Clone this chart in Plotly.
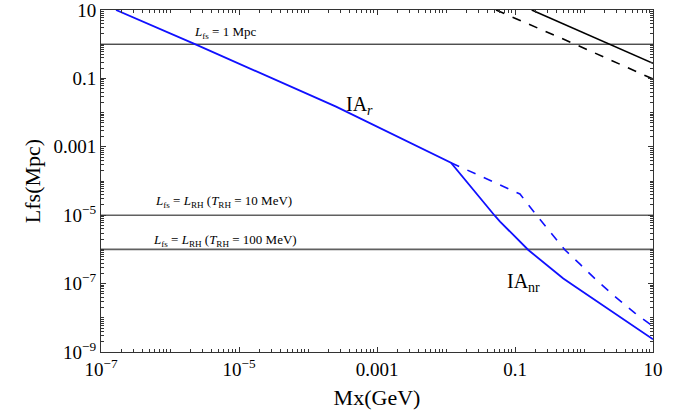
import plotly.graph_objects as go

# ---- data ----
x_blue_solid = [1.65e-7, 2.30e-6, 2.55e-4, 0.0118, 0.0513, 0.0607, 0.156, 0.272, 0.501, 0.741, 2.81, 10]
y_blue_solid = [10, 1.0, 0.0149, 3.43e-4, 9.5e-6, 6.5e-6, 9.6e-7, 3.9e-7, 1.41e-7, 8.2e-8, 1.35e-8, 2.34e-9]

x_blue_dash = [0.0118, 0.118, 0.206, 0.531, 0.875, 1.54, 2.81, 5.48, 10]
y_blue_dash = [3.43e-4, 4.17e-5, 9.8e-6, 9.6e-7, 3.7e-7, 1.23e-7, 4.2e-8, 1.38e-8, 5.6e-9]

x_black_solid = [0.1746, 2.38, 10]
y_black_solid = [10, 1.0, 0.277]

x_black_dash = [0.0531, 0.741, 10]
y_black_dash = [10, 1.0, 0.096]

h_lines_y = [1.0, 1e-5, 1e-6]
x_range_vals = [1e-7, 10]

x_tick_vals = [1e-7, 1e-5, 1e-3, 1e-1, 10]
x_tick_text = ["10<sup>\u22127</sup>", "10<sup>\u22125</sup>", "0.001", "0.1", "10"]
y_tick_vals = [1e-9, 1e-7, 1e-5, 1e-3, 1e-1, 10]
y_tick_text = ["10<sup>\u22129</sup>", "10<sup>\u22127</sup>", "10<sup>\u22125</sup>", "0.001", "0.1", "10"]

FONT = "Liberation Serif, Times New Roman, serif"
BLUE = "#1010ff"

fig = go.Figure()

# horizontal reference lines
fig.add_trace(go.Scatter(x=x_range_vals, y=[h_lines_y[0]] * 2, mode="lines",
                         line=dict(color="black", width=1), showlegend=False))
for hy in h_lines_y[1:]:
    fig.add_trace(go.Scatter(x=x_range_vals, y=[hy] * 2, mode="lines",
                             line=dict(color="#606060", width=1.6), showlegend=False))

fig.add_trace(go.Scatter(x=x_black_solid, y=y_black_solid, mode="lines",
                         line=dict(color="black", width=1.6), showlegend=False))
fig.add_trace(go.Scatter(x=x_black_dash, y=y_black_dash, mode="lines",
                         line=dict(color="black", width=1.6, dash="dash"), showlegend=False))
fig.add_trace(go.Scatter(x=x_blue_dash, y=y_blue_dash, mode="lines",
                         line=dict(color=BLUE, width=1.6, dash="dash"),
                         showlegend=False))
fig.add_trace(go.Scatter(x=x_blue_solid, y=y_blue_solid, mode="lines",
                         line=dict(color=BLUE, width=1.8),
                         showlegend=False))

def minor_vals(lo, hi, skip):
    out = []
    for e in range(lo, hi + 1):
        for m in range(1, 10):
            v = m * 10 ** e
            if m == 1 and any(abs(v - s) / s < 1e-9 for s in skip):
                continue
            out.append(v)
    return out

axis_common = dict(
    type="log", showgrid=False, zeroline=False, showline=True, linecolor="#333333",
    linewidth=1, mirror="allticks", ticks="inside", ticklen=5, tickcolor="#333333",
    tickfont=dict(family=FONT, size=19, color="black"), automargin=False,
    ticklabeloverflow="allow", tickmode="array",
)

fig.update_xaxes(**axis_common, range=[-7, 1],
                 tickvals=x_tick_vals, ticktext=x_tick_text,
                 minor=dict(ticks="inside", ticklen=3, tickcolor="#333333", tickmode="array",
                            tickvals=minor_vals(-7, 0, x_tick_vals)),
                 title=dict(text="Mx(GeV)", font=dict(family=FONT, size=22, color="black"), standoff=10))
fig.update_yaxes(**axis_common, range=[-9, 1],
                 tickvals=y_tick_vals, ticktext=y_tick_text,
                 minor=dict(ticks="inside", ticklen=3, tickcolor="#333333", tickmode="array",
                            tickvals=minor_vals(-9, 0, y_tick_vals)),
                 title=dict(text="Lfs(Mpc)", font=dict(family=FONT, size=22, color="black"), standoff=6))

ann_font = dict(family=FONT, size=13, color="black")
annotations = [
    dict(x=-5.20, y=0.33, text="<i>L</i><sub>fs</sub> = 1 Mpc", font=ann_font),
    dict(x=-5.23, y=-4.61, text="<i>L</i><sub>fs</sub> = <i>L</i><sub>RH</sub> (<i>T</i><sub>RH</sub> = 10 MeV)", font=ann_font),
    dict(x=-5.20, y=-5.75, text="<i>L</i><sub>fs</sub> = <i>L</i><sub>RH</sub> (<i>T</i><sub>RH</sub> = 100 MeV)", font=ann_font),
    dict(x=-3.26, y=-1.78, text="IA<sub><i>r</i></sub>", font=dict(family=FONT, size=20, color="black")),
    dict(x=-0.87, y=-6.98, text="IA<sub>nr</sub>", font=dict(family=FONT, size=20, color="black")),
]
for a in annotations:
    a.update(xref="x", yref="y", showarrow=False)

fig.update_layout(
    width=686, height=419,
    margin=dict(l=101, r=33, t=10, b=67),
    plot_bgcolor="white", paper_bgcolor="white",
    annotations=annotations,
    showlegend=False,
)

fig.write_html("out.html", config={"displayModeBar": False},
               post_script="document.body.style.margin='0';document.body.style.overflow='hidden';")
